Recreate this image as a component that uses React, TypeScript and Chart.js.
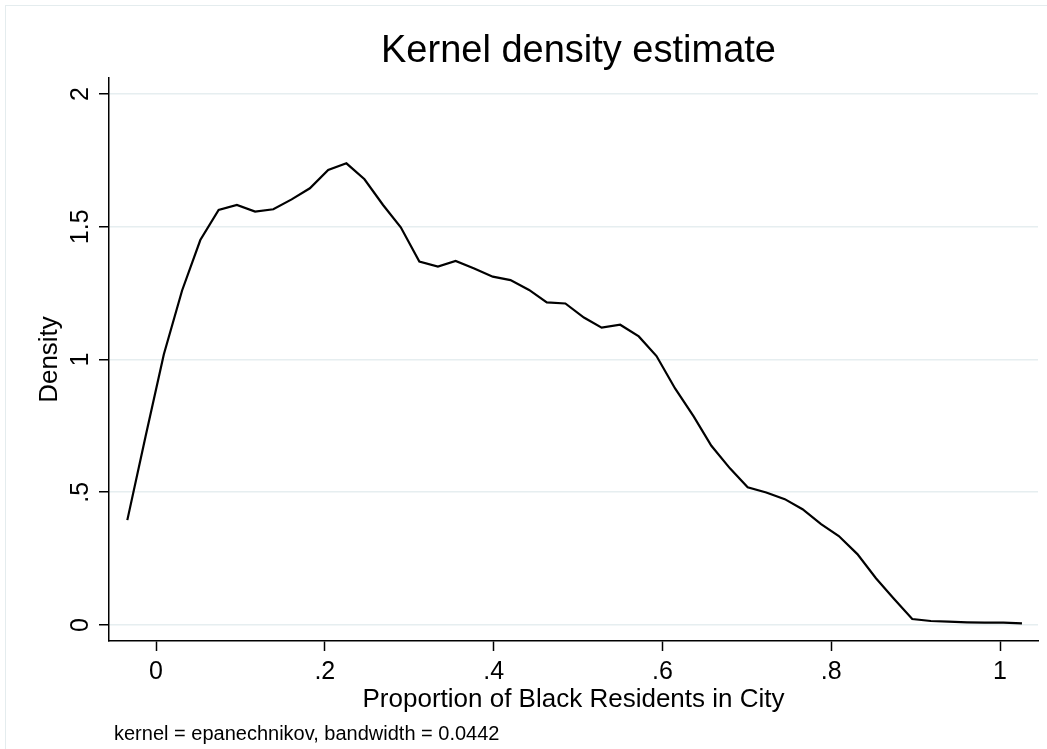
import React, { useEffect, useRef } from "react";
import { Chart, registerables } from "chart.js";

Chart.register(...registerables);

const xValues = [-0.034, -0.0124, 0.0093, 0.0309, 0.0525, 0.0742, 0.0958, 0.1174, 0.139, 0.1607, 0.1823, 0.204, 0.2256, 0.247, 0.269, 0.29, 0.312, 0.334, 0.355, 0.377, 0.399, 0.42, 0.442, 0.463, 0.485, 0.507, 0.528, 0.55, 0.572, 0.593, 0.615, 0.637, 0.658, 0.68, 0.701, 0.723, 0.745, 0.766, 0.788, 0.809, 0.831, 0.853, 0.874, 0.896, 0.918, 0.939, 0.961, 0.982, 1.004, 1.026];
const density = [0.395, 0.71, 1.02, 1.26, 1.45, 1.563, 1.582, 1.557, 1.566, 1.603, 1.645, 1.714, 1.739, 1.679, 1.582, 1.498, 1.369, 1.35, 1.371, 1.343, 1.312, 1.299, 1.262, 1.215, 1.211, 1.158, 1.12, 1.131, 1.087, 1.013, 0.891, 0.786, 0.675, 0.59, 0.519, 0.499, 0.474, 0.436, 0.38, 0.335, 0.267, 0.176, 0.1, 0.0226, 0.015, 0.0126, 0.01, 0.0087, 0.009, 0.0064];

const xTicks = [0, 0.2, 0.4, 0.6, 0.8, 1];
const xTickLabels = ["0", ".2", ".4", ".6", ".8", "1"];
const yTicks = [0, 0.5, 1, 1.5, 2];
const yTickLabels = ["0", ".5", "1", "1.5", "2"];

const titleText = "Kernel density estimate";
const xTitle = "Proportion of Black Residents in City";
const yTitle = "Density";
const noteText = "kernel = epanechnikov, bandwidth = 0.0442";

const FONT = '"Liberation Sans", Arial, Helvetica, sans-serif';

const textPlugin = {
  id: "stataText",
  afterDraw(chart: any) {
    const ctx = chart.ctx;
    const xs = chart.scales.x;
    const ys = chart.scales.y;
    const area = chart.chartArea;
    ctx.save();
    // outer frame
    ctx.strokeStyle = "#e4ecee";
    ctx.lineWidth = 1;
    ctx.strokeRect(5.5, 5.5, 3000, 3000);

    ctx.fillStyle = "#000";
    // title
    ctx.font = `38px ${FONT}`;
    ctx.textAlign = "center";
    ctx.textBaseline = "alphabetic";
    ctx.fillText(titleText, (area.left + area.right) / 2 + 5, 62);

    // x tick labels
    ctx.font = `25px ${FONT}`;
    xTicks.forEach((v, i) => {
      ctx.fillText(xTickLabels[i], xs.getPixelForValue(v), 679);
    });

    // y tick labels rotated
    yTicks.forEach((v, i) => {
      ctx.save();
      ctx.translate(88, ys.getPixelForValue(v));
      ctx.rotate(-Math.PI / 2);
      ctx.textAlign = "center";
      ctx.fillText(yTickLabels[i], 0, 0);
      ctx.restore();
    });

    // axis titles
    ctx.font = `26px ${FONT}`;
    ctx.fillText(xTitle, (area.left + area.right) / 2, 707);
    ctx.save();
    ctx.translate(57, (area.top + area.bottom) / 2);
    ctx.rotate(-Math.PI / 2);
    ctx.textAlign = "center";
    ctx.fillText(yTitle, 0, 0);
    ctx.restore();

    // note
    ctx.font = `20px ${FONT}`;
    ctx.textAlign = "left";
    ctx.fillText(noteText, 114, 740);
    ctx.restore();
  },
};

export default function App() {
  const canvasRef = useRef<HTMLCanvasElement | null>(null);

  useEffect(() => {
    document.body.style.margin = "0";
    const canvas = canvasRef.current;
    if (!canvas) return;
    const chart = new Chart(canvas, {
      type: "line",
      data: {
        datasets: [
          {
            data: xValues.map((x, i) => ({ x, y: density[i] })),
            borderColor: "#000",
            borderWidth: 2.2,
            pointRadius: 0,
            tension: 0,
            fill: false,
          },
        ],
      },
      options: {
        responsive: false,
        animation: false,
        devicePixelRatio: 1,
        layout: { padding: { top: 78, right: 9, left: 0, bottom: 0 } },
        plugins: {
          legend: { display: false },
          tooltip: { enabled: false },
          title: { display: false },
        },
        scales: {
          x: {
            type: "linear",
            min: -0.0557,
            max: 1.045,
            afterBuildTicks: (s: any) => {
              s.ticks = xTicks.map((v) => ({ value: v }));
            },
            afterFit: (s: any) => {
              s.height = 108;
            },
            ticks: { display: false },
            grid: {
              drawOnChartArea: false,
              drawTicks: true,
              tickLength: 10,
              tickColor: "#000",
              tickWidth: 1.5,
            },
            border: { display: true, color: "#000", width: 1.5 },
          },
          y: {
            type: "linear",
            min: -0.0603,
            max: 2.0603,
            afterBuildTicks: (s: any) => {
              s.ticks = yTicks.map((v) => ({ value: v }));
            },
            afterFit: (s: any) => {
              s.width = 109;
            },
            ticks: { display: false },
            grid: {
              color: "#e6eef0",
              lineWidth: 1.5,
              drawTicks: true,
              tickLength: 10,
              tickColor: "#000",
              tickWidth: 1.5,
            },
            border: { display: true, color: "#000", width: 1.5 },
          },
        },
      },
      plugins: [textPlugin],
    });
    return () => chart.destroy();
  }, []);

  return (
    <div style={{ width: 1047, height: 749, background: "#fff" }}>
      <canvas ref={canvasRef} width={1047} height={749} style={{ display: "block" }} />
    </div>
  );
}
